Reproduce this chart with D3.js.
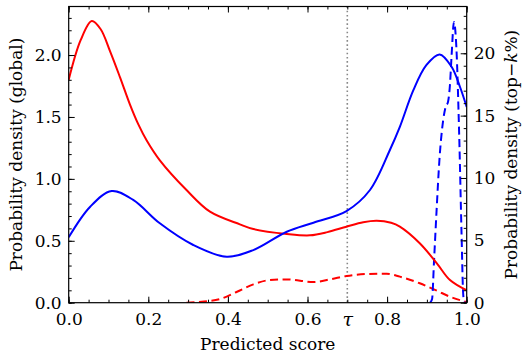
<!DOCTYPE html>
<html>
<head>
<meta charset="utf-8">
<script src="https://cdn.jsdelivr.net/npm/d3@7"></script>
<style>
  html, body { margin: 0; padding: 0; background: #fff; }
  svg { display: block; }
  text { font-family: "DejaVu Serif"; fill: #000; }
</style>
</head>
<body>
<svg id="chart" width="530" height="362"></svg>
<script>
// ---- data ----
const redGlobalX = [0, 0.03, 0.058, 0.08, 0.104, 0.129, 0.154, 0.175, 0.196, 0.229, 0.296, 0.355, 0.43, 0.464, 0.548, 0.606, 0.65, 0.698, 0.74, 0.774, 0.81, 0.832, 0.882, 0.925, 0.958, 1.0];
const redGlobalY = [1.80, 2.12, 2.275, 2.21, 2.03, 1.82, 1.60, 1.44, 1.31, 1.15, 0.91, 0.735, 0.633, 0.595, 0.555, 0.544, 0.57, 0.614, 0.65, 0.662, 0.645, 0.614, 0.48, 0.318, 0.183, 0.10];

const blueGlobalX = [0, 0.054, 0.108, 0.162, 0.229, 0.313, 0.397, 0.464, 0.548, 0.615, 0.698, 0.757, 0.807, 0.832, 0.866, 0.899, 0.932, 0.962, 0.983, 1.0];
const blueGlobalY = [0.528, 0.775, 0.902, 0.83, 0.641, 0.466, 0.371, 0.425, 0.573, 0.646, 0.74, 0.91, 1.233, 1.42, 1.717, 1.92, 2.005, 1.905, 1.744, 1.58];

const redTopX = [0.296, 0.34, 0.381, 0.423, 0.464, 0.506, 0.548, 0.615, 0.657, 0.698, 0.749, 0.799, 0.832, 0.882, 0.925, 0.958, 1.0];
const redTopY = [0, 0.1, 0.3, 0.88, 1.47, 1.82, 1.87, 1.66, 1.87, 2.14, 2.30, 2.32, 2.09, 1.56, 0.96, 0.48, 0.05];

const blueTopX = [0.908, 0.913, 0.918, 0.924, 0.932, 0.941, 0.947, 0.953, 0.958, 0.962, 0.968, 0.974, 0.981, 0.987, 0.991, 0.994, 1.0];
const blueTopY = [0, 0.3, 3.4, 7.2, 11.7, 14.65, 15.7, 16.1, 17.5, 19.8, 22.5, 20.5, 13.6, 5.6, 0.8, 0, 0];

const tau = 0.7;
const xTickVals = [0, 0.2, 0.4, 0.6, 0.7, 0.8, 1.0];
const xTickLabels = ["0.0", "0.2", "0.4", "0.6", "τ", "0.8", "1.0"];
const yLeftTicks = [0, 0.5, 1.0, 1.5, 2.0];
const yLeftLabels = ["0.0", "0.5", "1.0", "1.5", "2.0"];
const yRightTicks = [0, 5, 10, 15, 20];
const yRightLabels = ["0", "5", "10", "15", "20"];

// ---- layout ----
const L = 68.7, T = 6.5, W = 398, H = 296.2;
const FONT = "DejaVu Serif";
const fs = 17;
const svg = d3.select("#chart");
svg.append("rect").attr("width", 530).attr("height", 362).attr("fill", "#fff");

const x = d3.scaleLinear().domain([0, 1]).range([L, L + W]);
const yL = d3.scaleLinear().domain([0, 2.392]).range([T + H, T]);
const yR = d3.scaleLinear().domain([0, 23.75]).range([T + H, T]);

svg.append("clipPath").attr("id", "clip")
  .append("rect").attr("x", L).attr("y", T).attr("width", W).attr("height", H);

const plot = svg.append("g").attr("clip-path", "url(#clip)");

// tau line
plot.append("line")
  .attr("x1", x(tau)).attr("x2", x(tau)).attr("y1", T).attr("y2", T + H)
  .attr("stroke", "#888").attr("stroke-width", 1.6).attr("stroke-dasharray", "1.6,2.6");

function drawLine(xs, ys, yScale, color, dash, curve) {
  const pts = xs.map((v, i) => [v, ys[i]]);
  const gen = d3.line().x(d => x(d[0])).y(d => yScale(d[1])).curve(curve);
  const p = plot.append("path").datum(pts).attr("d", gen)
    .attr("fill", "none").attr("stroke", color).attr("stroke-width", 2)
    .attr("stroke-linejoin", "round");
  if (dash) p.attr("stroke-dasharray", dash);
}
drawLine(redTopX, redTopY, yR, "#ff0000", "8,4.5", d3.curveMonotoneX);
drawLine(blueTopX, blueTopY, yR, "#0000ff", "8,4.5", d3.curveMonotoneX);
drawLine(redGlobalX, redGlobalY, yL, "#ff0000", null, d3.curveCatmullRom.alpha(0.5));
drawLine(blueGlobalX, blueGlobalY, yL, "#0000ff", null, d3.curveCatmullRom.alpha(0.5));

// ---- axes ----
// bottom
const bottom = d3.axisBottom(x).tickValues(xTickVals).tickFormat((d, i) => xTickLabels[i])
  .tickSizeInner(-6).tickSizeOuter(0).tickPadding(10);
const gB = svg.append("g").attr("transform", `translate(0,${T + H})`).call(bottom);
const bottomMinor = d3.axisBottom(x).tickValues(d3.range(0, 1.0001, 0.05)).tickFormat("").tickSizeInner(-3).tickSizeOuter(0);
svg.append("g").attr("transform", `translate(0,${T + H})`).call(bottomMinor);
gB.selectAll(".tick").filter(d => d === tau).select("line").remove();
// top
const topMajor = d3.axisTop(x).tickValues([0, 0.2, 0.4, 0.6, 0.8, 1.0]).tickFormat("").tickSizeInner(-6).tickSizeOuter(0);
svg.append("g").attr("transform", `translate(0,${T})`).call(topMajor);
const topMinor = d3.axisTop(x).tickValues(d3.range(0, 1.0001, 0.05)).tickFormat("").tickSizeInner(-3).tickSizeOuter(0);
svg.append("g").attr("transform", `translate(0,${T})`).call(topMinor);
// left
const left = d3.axisLeft(yL).tickValues(yLeftTicks).tickFormat((d, i) => yLeftLabels[i])
  .tickSizeInner(-6).tickSizeOuter(0).tickPadding(7);
svg.append("g").attr("transform", `translate(${L},0)`).call(left);
const leftMinor = d3.axisLeft(yL).tickValues(d3.range(0, 2.39, 0.1)).tickFormat("").tickSizeInner(-3).tickSizeOuter(0);
svg.append("g").attr("transform", `translate(${L},0)`).call(leftMinor);
// right
const right = d3.axisRight(yR).tickValues(yRightTicks).tickFormat((d, i) => yRightLabels[i])
  .tickSizeInner(-6).tickSizeOuter(0).tickPadding(7);
svg.append("g").attr("transform", `translate(${L + W},0)`).call(right);
const rightMinor = d3.axisRight(yR).tickValues(d3.range(0, 23.5, 1)).tickFormat("").tickSizeInner(-3).tickSizeOuter(0);
svg.append("g").attr("transform", `translate(${L + W},0)`).call(rightMinor);

svg.selectAll(".domain").remove();
svg.selectAll("g").attr("font-family", FONT);
svg.selectAll(".tick line").attr("stroke", "#000").attr("stroke-width", 1);
svg.selectAll(".tick text").attr("font-family", FONT).attr("font-size", fs).attr("fill", "#000");
gB.selectAll(".tick text").filter(d => d === tau).attr("font-style", "italic").attr("font-size", fs + 2);

// frame
svg.append("rect").attr("x", L).attr("y", T).attr("width", W).attr("height", H)
  .attr("fill", "none").attr("stroke", "#000").attr("stroke-width", 1.2);

// labels
svg.append("text").attr("x", L + W / 2).attr("y", 350).attr("text-anchor", "middle")
  .attr("font-family", FONT).attr("font-size", fs).text("Predicted score");
svg.append("text").attr("transform", `translate(22,${T + H / 2}) rotate(-90)`).attr("text-anchor", "middle")
  .attr("font-family", FONT).attr("font-size", fs).text("Probability density (global)");
const rl = svg.append("text").attr("transform", `translate(517,${T + H / 2}) rotate(-90)`).attr("text-anchor", "middle")
  .attr("font-family", FONT).attr("font-size", fs);
rl.append("tspan").text("Probability density (top−");
rl.append("tspan").attr("font-style", "italic").text("k");
rl.append("tspan").text("%)");
</script>
</body>
</html>
